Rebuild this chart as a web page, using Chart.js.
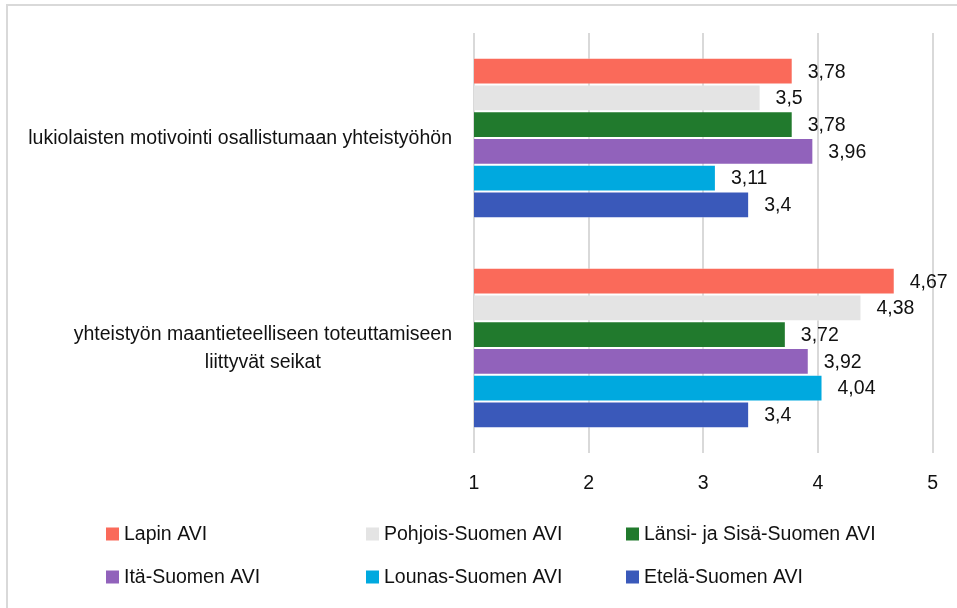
<!DOCTYPE html>
<html>
<head>
<meta charset="utf-8">
<script src="https://cdn.jsdelivr.net/npm/chart.js@4.4.1/dist/chart.umd.min.js"></script>
<style>
  html, body { margin: 0; padding: 0; background: #fff; overflow: hidden; }
  #wrap { position: relative; width: 957px; height: 608px; }
  #frame { position: absolute; left: 6px; top: 4px; width: 1000px; height: 700px; border: 2px solid #d9d9d9; box-sizing: border-box; }
  canvas { position: absolute; left: 0; top: 0; }
</style>
</head>
<body>
<div id="wrap">
  <div id="frame"></div>
  <canvas id="chart" width="957" height="608"></canvas>
</div>
<script>
const FONT = "'Liberation Sans', Arial, sans-serif";
const FS = 19.5;

const categories = [
    ['lukiolaisten motivointi osallistumaan yhteistyöhön'],
    ['yhteistyön maantieteelliseen toteuttamiseen', 'liittyvät seikat']
];
const seriesNames = ['Lapin AVI', 'Pohjois-Suomen AVI', 'Länsi- ja Sisä-Suomen AVI', 'Itä-Suomen AVI', 'Lounas-Suomen AVI', 'Etelä-Suomen AVI'];
const seriesColors = ['#fa6a5a', '#e4e4e4', '#217a2d', '#9162bb', '#00a9df', '#3a59ba'];
const lapin = [3.78, 4.67];
const pohjois = [3.5, 4.38];
const lansi = [3.78, 3.72];
const ita = [3.96, 3.92];
const lounas = [3.11, 4.04];
const etela = [3.4, 3.4];
const xTicks = [1, 2, 3, 4, 5];

const seriesValues = [lapin, pohjois, lansi, ita, lounas, etela];

const fmt = v => String(v).replace('.', ',');

const valueLabels = {
    id: 'valueLabels',
    afterDatasetsDraw: (chart) => {
        const ctx = chart.ctx;
        ctx.save();
        ctx.font = FS + 'px ' + FONT;
        ctx.fillStyle = '#111';
        ctx.textAlign = 'left';
        ctx.textBaseline = 'middle';
        chart.data.datasets.forEach((ds, i) => {
            chart.getDatasetMeta(i).data.forEach((bar, j) => {
                ctx.fillText(fmt(ds.data[j]), bar.x + 15, bar.y + 1);
            });
        });
        ctx.restore();
    }
};

const categoryLabels = {
    id: 'categoryLabels',
    afterDraw: (chart) => {
        const ctx = chart.ctx;
        const yScale = chart.scales.y;
        ctx.save();
        ctx.font = FS + 'px ' + FONT;
        ctx.fillStyle = '#111';
        ctx.textAlign = 'center';
        ctx.textBaseline = 'middle';
        categories.forEach((lines, i) => {
            const w = Math.max(...lines.map(l => ctx.measureText(l).width));
            const cx = 452 - w / 2;
            const cy = yScale.getPixelForTick(i);
            const lh = 28;
            lines.forEach((l, k) => {
                ctx.fillText(l, cx, cy + 1 + (k - (lines.length - 1) / 2) * lh);
            });
        });
        ctx.restore();
    }
};

const gridLegend = {
    id: 'gridLegend',
    afterDraw: (chart) => {
        const ctx = chart.ctx;
        ctx.save();
        ctx.font = FS + 'px ' + FONT;
        ctx.textAlign = 'left';
        ctx.textBaseline = 'middle';
        chart.data.datasets.forEach((ds, i) => {
            const col = i % 3, row = Math.floor(i / 3);
            const x = 106 + col * 260;
            const y = 534 + row * 43;
            ctx.fillStyle = ds.backgroundColor;
            ctx.fillRect(x, y - 6.5, 13, 13);
            ctx.fillStyle = '#111';
            ctx.fillText(ds.label, x + 18, y + 1);
        });
        ctx.restore();
    }
};

new Chart(document.getElementById('chart'), {
    type: 'bar',
    data: {
        labels: categories,
        datasets: seriesNames.map((name, i) => ({
            label: name,
            data: seriesValues[i],
            backgroundColor: seriesColors[i],
            borderColor: 'rgba(255,255,255,0.35)',
            borderWidth: 1,
            categoryPercentage: 0.764,
            barPercentage: 1
        }))
    },
    options: {
        indexAxis: 'y',
        responsive: false,
        animation: false,
        layout: { padding: { top: 33, right: 24, left: 0, bottom: 0 } },
        plugins: {
            legend: { display: false },
            tooltip: { enabled: false }
        },
        scales: {
            x: {
                min: 1,
                max: 5,
                afterBuildTicks: (scale) => { scale.ticks = xTicks.map(v => ({ value: v })); },
                grid: { color: '#d9d9d9', lineWidth: 2, drawTicks: false },
                border: { display: false },
                ticks: { color: '#111', font: { family: FONT, size: FS }, padding: 19 },
                afterFit: (scale) => { scale.height = 155; }
            },
            y: {
                grid: { display: false, drawTicks: false },
                border: { display: false },
                ticks: { display: false },
                afterFit: (scale) => { scale.width = 474; }
            }
        }
    },
    plugins: [valueLabels, categoryLabels, gridLegend]
});
</script>
</body>
</html>
